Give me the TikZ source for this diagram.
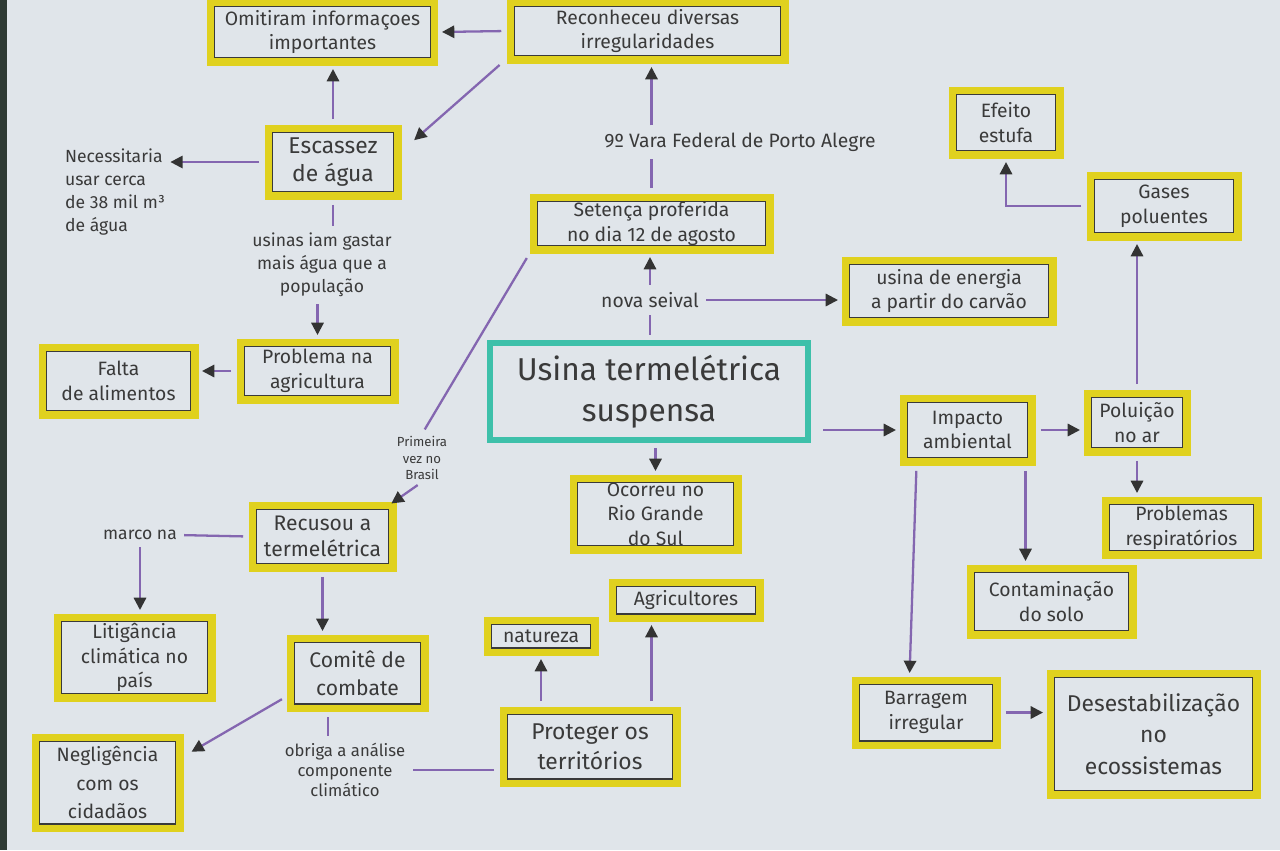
\documentclass[tikz,border=0pt]{standalone}
\usepackage{fontspec}
\setmainfont{Fira Sans}
\usetikzlibrary{arrows.meta,calc}
\definecolor{paper}{HTML}{E0E5EA}
\definecolor{ybox}{HTML}{E0D11E}
\definecolor{tealbox}{HTML}{3EC0AA}
\definecolor{ink}{HTML}{3A3A3A}
\definecolor{conn}{HTML}{8466B0}
\definecolor{edge}{HTML}{2E3A34}
\tikzset{
  box/.style={draw=ybox, line width=4pt,
    path picture={\draw[ink, line width=5.4pt] (path picture bounding box.south west) rectangle (path picture bounding box.north east);},
    text=ink, align=center, inner sep=2pt, font=\fontsize{11}{14}\selectfont},
  mainbox/.style={draw=tealbox, line width=3.5pt, text=ink, align=center,
    font=\fontsize{18}{23}\selectfont},
  lbl/.style={text=ink, align=center, inner sep=1pt, font=\fontsize{10}{13}\selectfont},
  arr/.style={draw=conn, line width=1.3pt, -{Triangle[length=7pt,width=7pt,color=black!80]},
    shorten >=2pt, shorten <=3pt},
  ln/.style={draw=conn, line width=1.3pt, shorten <=3pt, shorten >=3pt},
}
\begin{document}
\begin{tikzpicture}[x=0.02cm,y=-0.02cm]
\fill[paper] (0,0) rectangle (1280,850);
\useasboundingbox (0,0) rectangle (1280,850);
\fill[edge] (0,0) rectangle (7,850);

% boxes
\node[box, minimum width=4.5cm, minimum height=1.2cm] (omit) at (322.5,32) {Omitiram informaçoes\\importantes};
\node[box, minimum width=5.5cm, minimum height=1.16cm] (recon) at (647.5,31) {Reconheceu diversas\\irregularidades};
\node[box, minimum width=2.6cm, minimum height=1.36cm, font=\fontsize{13}{16}\selectfont] (escassez) at (333,162) {Escassez\\de água};
\node[box, minimum width=3.1cm, minimum height=1.16cm] (probl) at (317.5,371) {Problema na\\agricultura};
\node[box, minimum width=3.06cm, minimum height=1.36cm] (falta) at (118.5,381) {Falta\\de alimentos};
\node[box, minimum width=4.74cm, minimum height=1.06cm] (setenca) at (651.5,223.5) {Setença proferida\\no dia 12 de agosto};
\node[box, minimum width=4.16cm, minimum height=1.24cm] (energia) at (949,291) {usina de energia\\a partir do carvão};
\node[box, minimum width=2.16cm, minimum height=1.3cm] (efeito) at (1006,122.5) {Efeito\\estufa};
\node[box, minimum width=2.96cm, minimum height=1.24cm] (gases) at (1164,206) {Gases\\poluentes};
\node[mainbox, minimum width=6.36cm, minimum height=1.94cm] (usina) at (649,391.5) {Usina termelétrica\\suspensa};
\node[box, minimum width=2.58cm, minimum height=1.28cm] (impacto) at (967.5,430) {Impacto\\ambiental};
\node[box, minimum width=2.0cm, minimum height=1.18cm] (poluicao) at (1137,422.5) {Poluição\\no ar};
\node[box, minimum width=3.06cm, minimum height=1.1cm] (resp) at (1181.5,527.5) {Problemas\\respiratórios};
\node[box, minimum width=3.26cm, minimum height=1.34cm] (contam) at (1051.5,601.5) {Contaminação\\do solo};
\node[box, minimum width=2.84cm, minimum height=1.3cm] (barragem) at (926,712.5) {Barragem\\irregular};
\node[box, minimum width=4.14cm, minimum height=2.44cm, font=\fontsize{13}{18}\selectfont] (desest) at (1153.5,734) {Desestabilização\\no\\ecossistemas};
\node[box, minimum width=3.3cm, minimum height=1.44cm] (ocorreu) at (655.5,514) {Ocorreu no\\Rio Grande\\do Sul};
\node[box, minimum width=2.96cm, minimum height=0.72cm] (agric) at (686,600) {Agricultores};
\node[box, minimum width=2.16cm, minimum height=0.64cm] (natureza) at (541,636) {natureza};
\node[box, minimum width=3.48cm, minimum height=1.46cm, font=\fontsize{13}{17}\selectfont] (proteger) at (590,746.5) {Proteger os\\territórios};
\node[box, minimum width=2.7cm, minimum height=1.4cm, font=\fontsize{12}{16}\selectfont] (comite) at (357.5,673) {Comitê de\\combate};
\node[box, minimum width=2.82cm, minimum height=1.26cm, font=\fontsize{12}{15}\selectfont] (recusou) at (322.5,536.5) {Recusou a\\termelétrica};
\node[box, minimum width=3.1cm, minimum height=1.62cm] (litig) at (134.5,657.5) {Litigância\\climática no\\país};
\node[box, minimum width=2.9cm, minimum height=1.82cm, font=\fontsize{11}{16}\selectfont] (neglig) at (107.5,782.5) {Negligência\\com os\\cidadãos};

% free labels
\node[lbl, align=left, anchor=west] (necess) at (63,192) {Necessitaria\\usar cerca\\de 38 mil m³\\de água};
\node[lbl] (usinas) at (322,265) {usinas iam gastar\\mais água que a\\população};
\node[lbl, font=\fontsize{11}{13}\selectfont] (vara) at (740,142) {9º Vara Federal de Porto Alegre};
\node[lbl, font=\fontsize{11}{13}\selectfont] (nova) at (650,300) {nova seival};
\node[lbl, font=\fontsize{7.5}{9.5}\selectfont] (prim) at (422,458) {Primeira\\vez no\\Brasil};
\node[lbl] (marco) at (140,535) {marco na};
\node[lbl, font=\fontsize{9.5}{11.5}\selectfont] (obriga) at (345,770) {obriga a análise\\componente\\climático};

% connectors
\draw[arr] (recon.west) -- (omit.east);
\draw[arr] ($(recon.south west)+(-3,-2)$) -- ($(escassez.north east)+(10,18)$);
\draw[arr] (escassez.north) -- (escassez.north |- omit.south);
\draw[arr] (escassez.west) -- (escassez.west -| necess.east);
\draw[ln] (escassez.south) -- (escassez.south |- usinas.north);
\draw[arr] (probl.north |- usinas.south) -- (probl.north);
\draw[arr] (probl.west) -- (probl.west -| falta.east);
\draw[ln] (setenca.north) -- (setenca.north |- vara.south);
\draw[arr] (setenca.north |- vara.north) -- (setenca.north |- recon.south);
\draw[ln] (nova.south |- usina.north) -- (nova.south);
\draw[arr] (nova.north) -- (nova.north |- setenca.south);
\draw[arr] (nova.east) -- (nova.east -| energia.west);
\draw[arr] (ocorreu.north |- usina.south) -- (ocorreu.north);
\draw[arr, shorten <=7pt] (usina.east |- impacto.west) -- (impacto.west);
\draw[arr] (impacto.east) -- (impacto.east -| poluicao.west);
\draw[arr] (poluicao.north) -- (poluicao.north |- gases.south);
\draw[arr] (gases.west) -- (efeito.south |- gases.west) -- (efeito.south);
\draw[arr] (poluicao.south) -- (poluicao.south |- resp.north);
\coordinate (ic) at ($(impacto.south east)+(-10,0)$);
\draw[arr] (ic) -- (ic |- contam.north);
\draw[arr] ($(impacto.south west)+(17,0)$) -- ($(barragem.north west)+(58,0)$);
\draw[arr] (barragem.east) -- (barragem.east -| desest.west);
\draw[ln] (setenca.south west) -- (prim.north);
\draw[arr] (prim.south) -- ($(recusou.north east)+(-8,4)$);
\draw[ln] (recusou.west) -- (marco.east);
\draw[arr] (marco.south) -- (marco.south |- litig.north);
\draw[arr] (recusou.south) -- (recusou.south |- comite.north);
\draw[arr] ($(comite.south west)+(0,-15)$) -- ($(neglig.north east)+(5,20)$);
\draw[ln] (obriga.north -| 328,0) -- (comite.south -| 328,0);
\draw[ln] (obriga.east -| proteger.west) -- (obriga.east);
\draw[arr] (natureza.south |- proteger.north) -- (natureza.south);
\coordinate (pa) at ($(proteger.north east)+(-29,0)$);
\draw[arr] (pa) -- (pa |- agric.south);
\end{tikzpicture}
\end{document}
